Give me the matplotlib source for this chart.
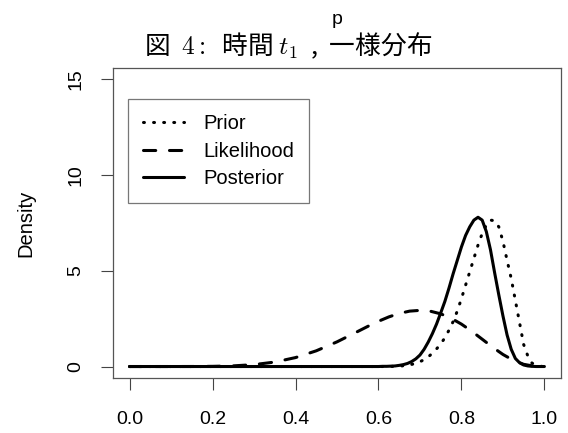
import matplotlib
matplotlib.use("Agg")
import matplotlib.pyplot as plt

plt.rcParams['font.family'] = ['Liberation Sans', 'Noto Sans CJK JP', 'DejaVu Sans']
plt.rcParams['mathtext.fontset'] = 'cm'

# values
lik_p = [0.0, 0.1, 0.15, 0.2, 0.25, 0.3, 0.35, 0.4, 0.45, 0.5, 0.55, 0.575, 0.6, 0.625,
         0.65, 0.675, 0.7, 0.725, 0.75, 0.775, 0.8, 0.825, 0.85, 0.875, 0.9, 0.925,
         0.95, 0.975, 1.0]
lik_d = [0.0, 0.0001, 0.0014, 0.009, 0.034, 0.099, 0.233, 0.467, 0.821, 1.289, 1.831,
         2.106, 2.365, 2.593, 2.774, 2.894, 2.935, 2.891, 2.753, 2.525, 2.215, 1.840,
         1.428, 1.012, 0.631, 0.323, 0.115, 0.017, 0.0]

prior_p = [0.0, 0.6, 0.62, 0.64, 0.65, 0.66, 0.67, 0.68, 0.69, 0.70, 0.71, 0.72, 0.73,
           0.74, 0.75, 0.76, 0.77, 0.78, 0.79, 0.80, 0.81, 0.82, 0.83, 0.84, 0.85, 0.86,
           0.87, 0.88, 0.89, 0.90, 0.91, 0.92, 0.93, 0.94, 0.95, 0.96, 0.97, 0.98, 0.99, 1.0]
prior_d = [0.0, 0.0, 0.0, 0.01, 0.02, 0.04, 0.07, 0.11, 0.17, 0.25, 0.36, 0.50, 0.70,
           0.92, 1.18, 1.50, 1.90, 2.35, 2.90, 3.55, 4.25, 4.95, 5.65, 6.35, 6.95, 7.40,
           7.65, 7.62, 7.30, 6.55, 5.55, 4.60, 3.45, 2.30, 1.15, 0.55, 0.18, 0.05, 0.01, 0.0]

post_p = [0.0, 0.6, 0.61, 0.62, 0.63, 0.64, 0.65, 0.66, 0.67, 0.68, 0.69, 0.70, 0.71,
          0.72, 0.73, 0.74, 0.75, 0.76, 0.77, 0.78, 0.79, 0.80, 0.81, 0.82, 0.83, 0.84,
          0.85, 0.86, 0.87, 0.88, 0.89, 0.90, 0.91, 0.92, 0.93, 0.94, 0.95, 0.96, 0.97,
          0.98, 1.0]
post_d = [0.0, 0.0, 0.01, 0.01, 0.02, 0.03, 0.06, 0.10, 0.16, 0.26, 0.40, 0.60, 0.90,
          1.28, 1.72, 2.22, 2.80, 3.40, 4.10, 4.85, 5.55, 6.25, 6.85, 7.30, 7.65, 7.80,
          7.65, 7.05, 6.10, 4.90, 3.75, 2.65, 1.65, 0.90, 0.42, 0.20, 0.08, 0.03, 0.01,
          0.0, 0.0]

x_ticks = [0.0, 0.2, 0.4, 0.6, 0.8, 1.0]
y_ticks = [0, 5, 10, 15]

fig = plt.figure(figsize=(5.68, 4.33), dpi=100)
ax = fig.add_axes([113 / 568, 55 / 433, 448 / 568, 310 / 433])

lw = 2.2
ax.plot(prior_p, prior_d, color="black", lw=lw, linestyle=(0, (0.3, 3.0)),
        dash_capstyle="round", label="Prior")
ax.plot(lik_p, lik_d, color="black", lw=lw, linestyle=(0, (4.0, 4.5)),
        dash_capstyle="round", label="Likelihood")
ax.plot(post_p, post_d, color="black", lw=lw, solid_capstyle="round", label="Posterior")

ax.set_xlim(-0.04, 1.04)
ax.set_ylim(-0.6, 15.6)
ax.set_xticks(x_ticks)
ax.set_xticklabels([f"{t:.1f}" for t in x_ticks])
ax.set_yticks(y_ticks)
ax.set_yticklabels([str(t) for t in y_ticks], rotation=90, va="center")
ax.tick_params(length=8.5, width=0.8, color="#444444", labelsize=14)
ax.tick_params(axis="x", pad=15)
ax.tick_params(axis="y", pad=12)
for s in ax.spines.values():
    s.set_color("#555555")
    s.set_linewidth(0.9)

ax.set_ylabel("Density", fontsize=14.5, labelpad=23)

leg = ax.legend(loc="upper left", bbox_to_anchor=(0.033, 0.9), fontsize=14.5,
                frameon=True, fancybox=False, handlelength=2.05, handletextpad=0.95,
                borderpad=0.75, labelspacing=0.42, borderaxespad=0)
leg.get_frame().set_edgecolor("#555555")
leg.get_frame().set_linewidth(0.9)

fig.text(0.508, 1 - 46 / 433, "図  $4{:}$  時間 $t_1$  ,  一様分布",
         ha="center", va="center", fontsize=18.5, family=['Noto Sans CJK JP', 'DejaVu Sans'])
fig.text(337 / 568, 1 - 20 / 433, "p", ha="center", va="center", fontsize=14)

fig.savefig("out.png", dpi=100)
